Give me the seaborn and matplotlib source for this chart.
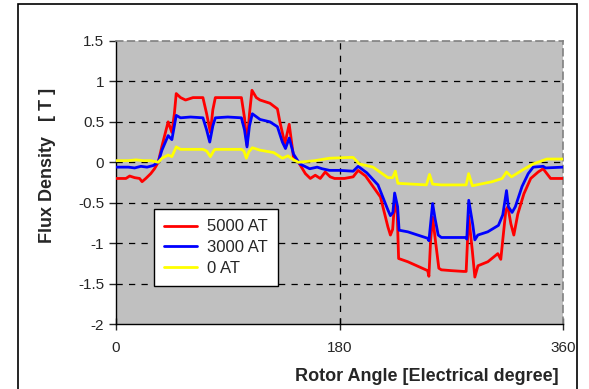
import matplotlib
matplotlib.use('Agg')
import matplotlib.pyplot as plt
import matplotlib.patches as patches
import numpy as np
import pandas as pd
import seaborn as sns

# values (angle in electrical degrees, flux in T)
ANGLE_5000 = [0, 8, 11, 15, 19, 21, 24, 28, 31, 34, 37, 42, 45, 47, 48.5, 52, 56, 62, 70, 73, 76, 78, 80, 90,
              101, 103.5, 105.5, 107.5, 109.5, 113, 116, 124, 130, 132, 136, 139.5, 143, 147, 152.5, 156.5,
              160.5, 164.5, 168.5, 172.5, 176, 184, 191, 195, 201, 207, 213, 219, 221, 222.8, 224.4, 226.5,
              227.6, 235, 251, 252, 253.4, 255, 257.5, 260, 262, 270, 280, 282, 284, 287, 289, 291.5, 299.5,
              307.5, 309.9, 311.5, 314, 315.6, 318, 320.4, 323.6, 328.5, 334, 340, 344, 346, 350, 360]
FLUX_5000 = [-0.2, -0.2, -0.17, -0.19, -0.2, -0.24, -0.2, -0.14, -0.08, 0.0, 0.2, 0.5, 0.37, 0.6, 0.85, 0.8,
             0.77, 0.8, 0.8, 0.6, 0.37, 0.65, 0.8, 0.8, 0.8, 0.55, 0.21, 0.6, 0.89, 0.8, 0.77, 0.73, 0.66,
             0.5, 0.23, 0.47, 0.06, 0.0, -0.14, -0.2, -0.16, -0.2, -0.12, -0.18, -0.2, -0.2, -0.18, -0.1,
             -0.17, -0.3, -0.43, -0.8, -0.9, -0.83, -0.49, -0.64, -1.19, -1.23, -1.34, -1.41, -0.96, -0.68,
             -1.0, -1.31, -1.33, -1.34, -1.35, -1.35, -0.66, -1.1, -1.42, -1.28, -1.23, -1.13, -1.2, -0.96,
             -0.59, -0.55, -0.76, -0.9, -0.64, -0.39, -0.2, -0.12, -0.08, -0.12, -0.2, -0.2]

ANGLE_3000 = [0, 10, 15, 20, 25, 30, 34, 37, 42, 45, 48.5, 52, 60, 70, 73, 75.5, 78, 80, 90, 101, 103.5,
              105.5, 107.5, 109.8, 116, 124, 130, 134, 136.5, 139.5, 143, 148, 156, 162, 166, 172, 180, 191,
              195, 202, 211, 219, 221, 223, 224.4, 226.8, 228, 235, 251, 252, 255, 257, 259.5, 262, 281.5,
              282.5, 284.1, 287.3, 289, 291.4, 299.4, 308, 311.5, 314.5, 316, 319, 321.6, 327, 332, 336,
              344, 346, 360]
FLUX_3000 = [-0.06, -0.06, -0.07, -0.05, -0.06, -0.04, 0.0, 0.15, 0.33, 0.28, 0.58, 0.55, 0.56, 0.55, 0.4,
             0.25, 0.45, 0.55, 0.56, 0.55, 0.4, 0.19, 0.45, 0.6, 0.53, 0.5, 0.44, 0.25, 0.17, 0.3, 0.1,
             -0.02, -0.08, -0.06, -0.08, -0.1, -0.1, -0.11, -0.05, -0.13, -0.28, -0.59, -0.66, -0.62, -0.38,
             -0.55, -0.84, -0.86, -0.94, -0.97, -0.51, -0.7, -0.9, -0.93, -0.93, -0.95, -0.47, -0.77, -0.96,
             -0.9, -0.86, -0.78, -0.65, -0.35, -0.55, -0.62, -0.55, -0.3, -0.14, -0.06, -0.05, -0.07, -0.06]

ANGLE_0 = [0, 10, 16, 22, 28, 34, 37, 42, 45, 48.5, 52, 70, 73, 76, 79, 80, 101, 103, 105, 107, 109.8, 116,
           127, 134, 138.5, 143, 147, 160, 172, 188, 191, 196, 207, 219, 222.8, 225, 227, 250, 252.5, 255,
           262, 282, 284, 287, 303, 311, 314.5, 318.5, 328, 336, 347, 360]
FLUX_0 = [0.02, 0.02, 0.03, 0.02, 0.02, 0.0, 0.05, 0.09, 0.07, 0.19, 0.16, 0.16, 0.14, 0.07, 0.15, 0.16,
          0.16, 0.14, 0.05, 0.13, 0.18, 0.15, 0.12, 0.05, 0.08, 0.03, 0.0, 0.02, 0.05, 0.06, 0.06, -0.02,
          -0.06, -0.19, -0.19, -0.11, -0.26, -0.28, -0.15, -0.27, -0.28, -0.28, -0.14, -0.29, -0.24, -0.2,
          -0.12, -0.18, -0.09, -0.02, 0.04, 0.04]

SERIES = ['5000 AT', '3000 AT', '0 AT']
COLORS = {'5000 AT': '#FF0000', '3000 AT': '#0000FF', '0 AT': '#FFFF00'}
X_TICKS = [0, 180, 360]
Y_TICKS = [-2, -1.5, -1, -0.5, 0, 0.5, 1, 1.5]

df = pd.concat([
    pd.DataFrame({'angle': ANGLE_5000, 'flux': FLUX_5000, 'series': '5000 AT'}),
    pd.DataFrame({'angle': ANGLE_3000, 'flux': FLUX_3000, 'series': '3000 AT'}),
    pd.DataFrame({'angle': ANGLE_0, 'flux': FLUX_0, 'series': '0 AT'}),
], ignore_index=True)

sns.set_style('white')
plt.rcParams['font.family'] = ['Liberation Sans', 'DejaVu Sans']

fig = plt.figure(figsize=(5.89, 3.89), dpi=100)
ax = fig.add_axes([116 / 589, 1 - 324 / 389, (563 - 116) / 589, (324 - 41) / 389])
ax.set_facecolor('#C0C0C0')

sns.lineplot(data=df, x='angle', y='flux', hue='series', hue_order=SERIES, palette=COLORS,
             linewidth=2, estimator=None, sort=False, ax=ax, zorder=3)

ax.set_xlim(0, 360)
ax.set_ylim(-2, 1.5)
ax.set_xticks(X_TICKS)
ax.set_yticks(Y_TICKS)
ax.set_yticklabels(['-2', '-1.5', '-1', '-0.5', '0', '0.5', '1', '1.5'])

# dashed grid like the spreadsheet chart
for y in Y_TICKS[1:-1]:
    ax.axhline(y, color='black', linestyle=(0, (5, 5)), linewidth=0.9, zorder=1)
ax.axvline(180, color='black', linestyle=(0, (5, 5)), linewidth=0.9, zorder=1)

for side in ['top', 'right']:
    ax.spines[side].set_color('#808080')
    ax.spines[side].set_linestyle((0, (4, 3)))
    ax.spines[side].set_linewidth(1.2)
for side in ['left', 'bottom']:
    ax.spines[side].set_color('black')
    ax.spines[side].set_linewidth(1)

ax.tick_params(axis='y', direction='out', length=5, width=1, labelsize=11, left=True)
ax.tick_params(axis='x', direction='inout', length=8, width=1, labelsize=11, bottom=True, pad=8)

ax.set_xlabel('Rotor Angle [Electrical degree]', fontsize=13, fontweight='bold', ha='right')
ax.xaxis.set_label_coords(0.99, -0.155)
ax.set_ylabel('Flux Density   [ T ]', fontsize=13, fontweight='bold')
ax.yaxis.set_label_coords(-0.135, 0.56)

leg = ax.legend(loc='lower left', bbox_to_anchor=(0.085, 0.134), borderaxespad=0, fontsize=12,
                fancybox=False, framealpha=1, edgecolor='black', handlelength=2.0,
                labelspacing=0.35, borderpad=0.6, handletextpad=0.6)
leg.get_frame().set_linewidth(1)
leg.set_title(None)

fig.add_artist(patches.Rectangle((18 / 589, -0.05), (577 - 18) / 589, 1 - 4 / 389 + 0.05,
                                 transform=fig.transFigure, fill=False, edgecolor='black', linewidth=1.2))

fig.savefig('out.png', dpi=100)
